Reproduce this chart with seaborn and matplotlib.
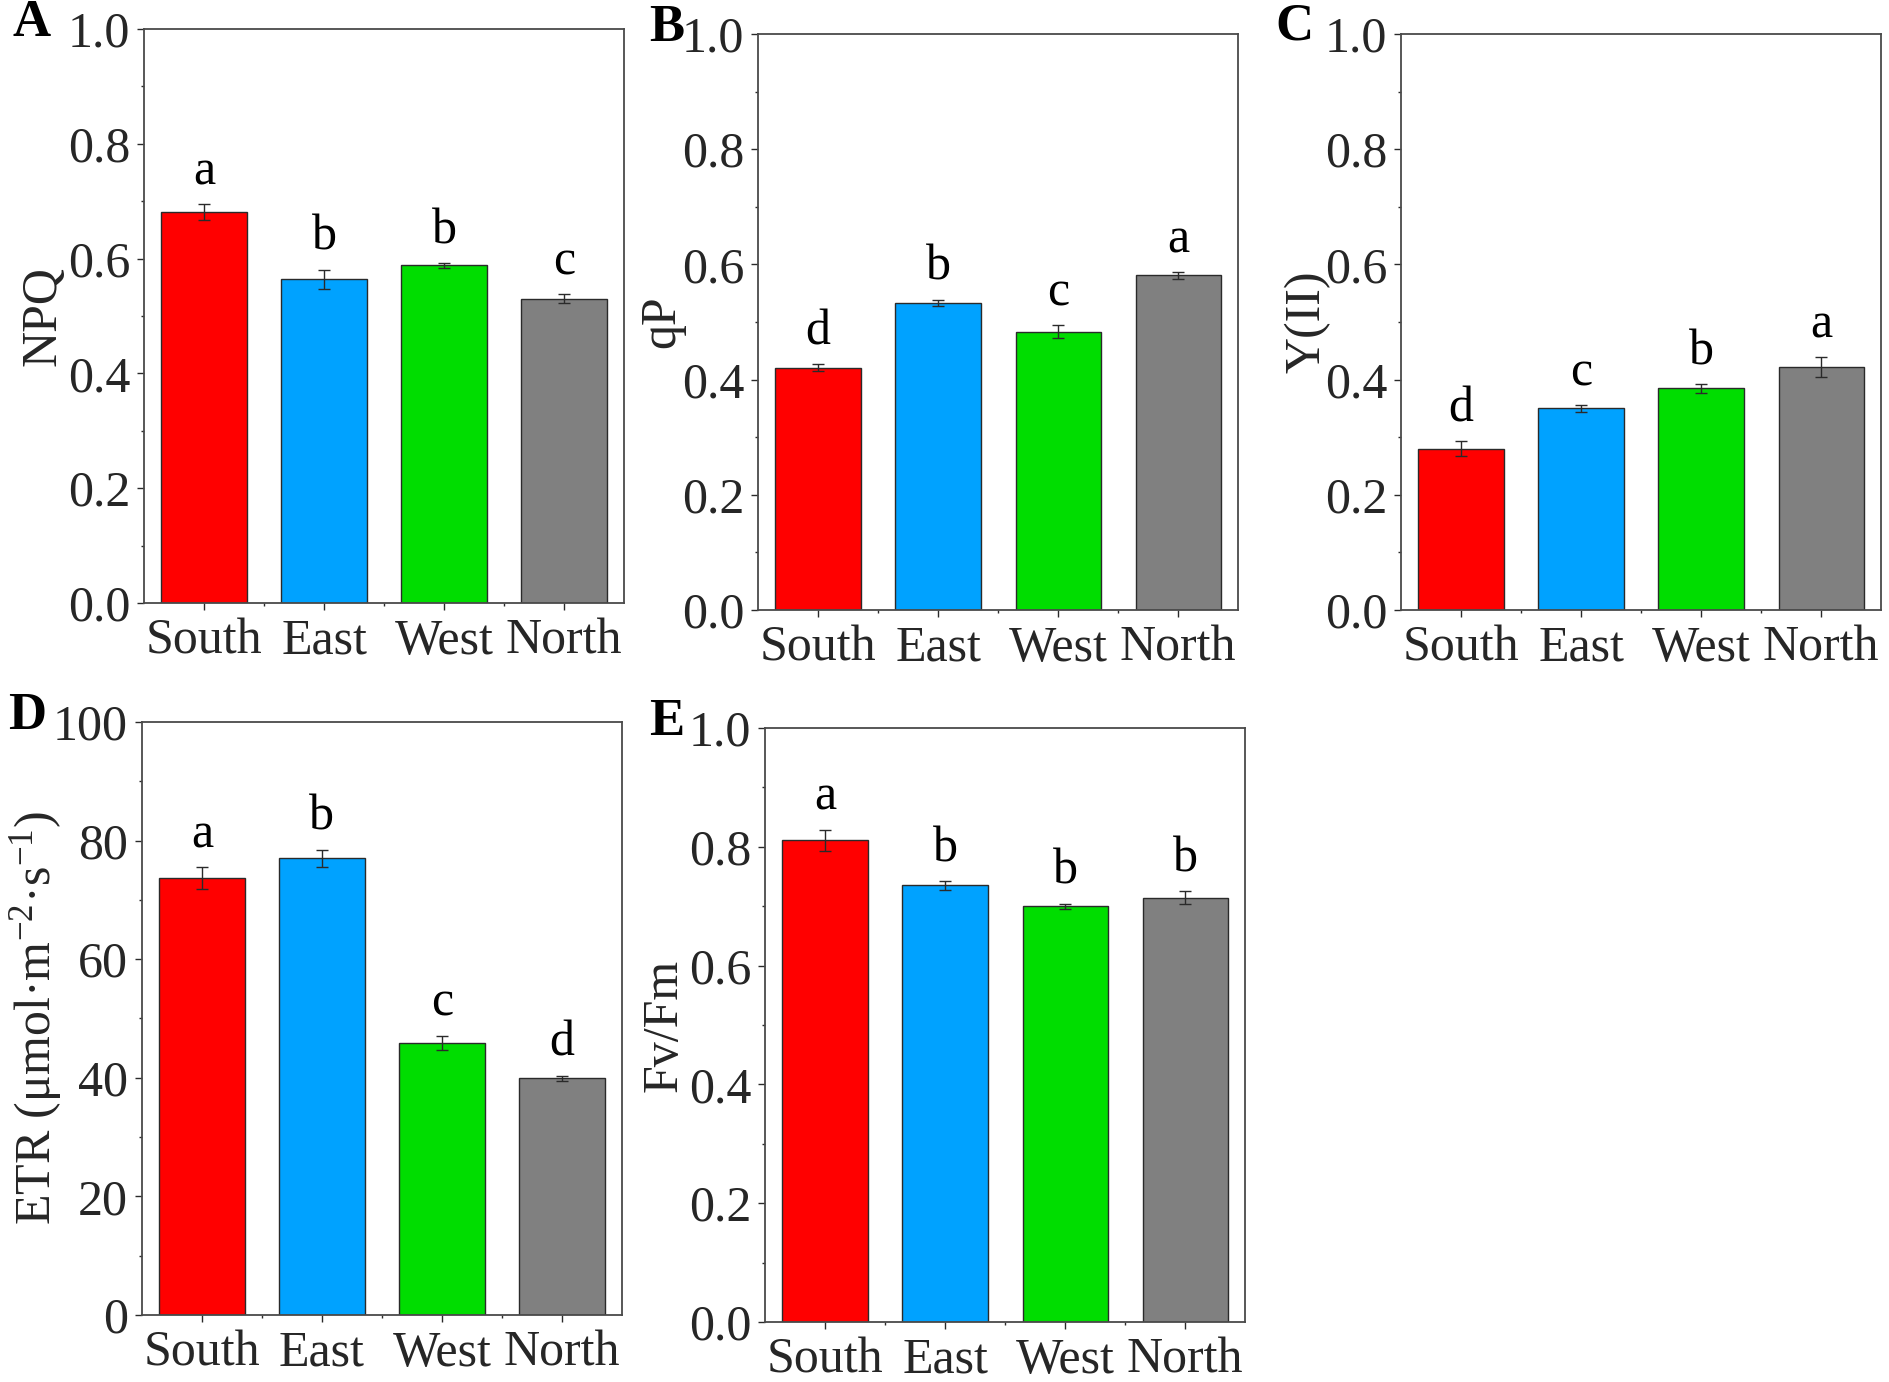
import numpy as np
import pandas as pd
import matplotlib
matplotlib.use("Agg")
from matplotlib import pyplot as plt
from matplotlib.ticker import MultipleLocator, FormatStrFormatter
import seaborn as sns

# ---- data ----
sites = ["South", "East", "West", "North"]
site_colors = ["#FF0000", "#00A2FF", "#00DD00", "#808080"]

npq = [0.681, 0.564, 0.588, 0.530]
npq_err = [0.014, 0.017, 0.005, 0.008]
npq_sig = ["a", "b", "b", "c"]

qp = [0.421, 0.533, 0.483, 0.581]
qp_err = [0.006, 0.006, 0.011, 0.0065]
qp_sig = ["d", "b", "c", "a"]

y2 = [0.280, 0.350, 0.385, 0.422]
y2_err = [0.013, 0.006, 0.008, 0.017]
y2_sig = ["d", "c", "b", "a"]

etr = [73.7, 77.0, 45.9, 39.9]
etr_err = [1.8, 1.4, 1.2, 0.4]
etr_sig = ["a", "b", "c", "d"]

fvfm = [0.811, 0.735, 0.700, 0.714]
fvfm_err = [0.0175, 0.007, 0.004, 0.011]
fvfm_sig = ["a", "b", "b", "b"]

# ---- style ----
sns.set_style("ticks")
plt.rcParams["font.family"] = ["Liberation Serif", "DejaVu Serif"]
plt.rcParams["mathtext.fontset"] = "custom"
plt.rcParams["mathtext.rm"] = "Liberation Serif"
plt.rcParams["mathtext.it"] = "Liberation Serif:italic"
plt.rcParams["text.color"] = "black"
FS = 36
EDGE = "#2a2a2a"


def bar_panel(ax, vals, errs, sig, ylabel, ymax, major, minor, fmt, tag, tag_xy, lab_x):
    df = pd.DataFrame({"site": sites, "val": vals})
    sns.barplot(data=df, x="site", y="val", hue="site", palette=site_colors,
                order=sites, hue_order=sites, legend=False, errorbar=None,
                width=0.71, edgecolor=EDGE, linewidth=1.0, saturation=1, ax=ax)
    ax.errorbar(np.arange(len(sites)), vals, yerr=errs, fmt="none", ecolor=EDGE,
                elinewidth=1.0, capsize=4, capthick=1.0, zorder=5)
    for i, (v, e, s) in enumerate(zip(vals, errs, sig)):
        ax.text(i, v + e + 0.034 * ymax, s, ha="center", va="baseline", fontsize=FS)

    ax.set_xlim(-0.5, 3.5)
    ax.set_ylim(0, ymax)
    ax.yaxis.set_major_locator(MultipleLocator(major))
    ax.yaxis.set_minor_locator(MultipleLocator(minor))
    ax.yaxis.set_major_formatter(FormatStrFormatter(fmt))
    ax.set_xticks([0.5, 1.5, 2.5], minor=True)
    ax.set_xlabel("")
    ax.set_ylabel(ylabel, fontsize=FS)
    ax.yaxis.set_label_coords(lab_x, 0.5)
    ax.yaxis.label.set_va("center")

    ax.tick_params(which="major", direction="out", length=5, width=1.0,
                   color=EDGE, labelsize=FS, pad=5, top=False, right=False)
    ax.tick_params(which="minor", direction="out", length=2.5, width=1.0,
                   color=EDGE, top=False, right=False)
    ax.tick_params(axis="x", which="major", pad=6)
    for sp in ax.spines.values():
        sp.set_visible(True)
        sp.set_color("#4a4a4a")
        sp.set_linewidth(1.3)
    ax.figure.text(tag_xy[0], tag_xy[1], tag, fontsize=38, fontweight="bold",
                   ha="center", va="center")


fig = plt.figure(figsize=(18.9, 13.82), dpi=100)

ax_a = fig.add_axes([0.0762, 0.5637, 0.254, 0.4153])
ax_b = fig.add_axes([0.4011, 0.5586, 0.254, 0.4168])
ax_c = fig.add_axes([0.7413, 0.5586, 0.254, 0.4168])
ax_d = fig.add_axes([0.0751, 0.0485, 0.254, 0.4291])
ax_e = fig.add_axes([0.4048, 0.0434, 0.254, 0.4298])

bar_panel(ax_a, npq, npq_err, npq_sig, "NPQ", 1.0, 0.2, 0.1, "%.1f",
          "A", (0.0169, 0.983), -0.21)
bar_panel(ax_b, qp, qp_err, qp_sig, "qP", 1.0, 0.2, 0.1, "%.1f",
          "B", (0.353, 0.980), -0.20)
bar_panel(ax_c, y2, y2_err, y2_sig, "Y(II)", 1.0, 0.2, 0.1, "%.1f",
          "C", (0.6847, 0.981), -0.196)
bar_panel(ax_d, etr, etr_err, etr_sig, "ETR (μmol·m$^{−2}$·s$^{-1}$)",
          100, 20, 10, "%d", "D", (0.0143, 0.482), -0.22)
bar_panel(ax_e, fvfm, fvfm_err, fvfm_sig, "Fv/Fm", 1.0, 0.2, 0.1, "%.1f",
          "E", (0.353, 0.4776), -0.21)

fig.savefig("out.png", dpi=100, facecolor="white")
